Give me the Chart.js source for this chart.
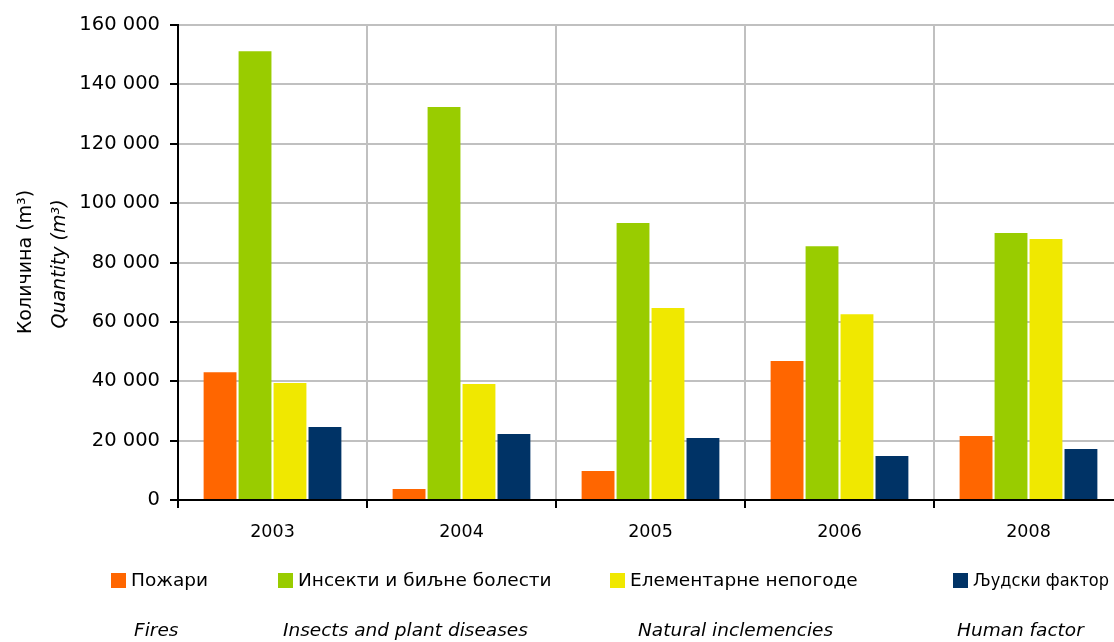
<!DOCTYPE html>
<html>
<head>
<meta charset="utf-8">
<script src="https://cdn.jsdelivr.net/npm/chart.js@4"></script>
<style>
  html, body { margin: 0; padding: 0; overflow: hidden; background: #fff; }
  #wrap { width: 1114px; height: 642px; overflow: hidden; }
</style>
</head>
<body>
<div id="wrap"><canvas id="myChart" width="1140" height="642"></canvas></div>
<script>
const categories = ['2003', '2004', '2005', '2006', '2008'];
const fires = [43000, 3700, 9800, 46800, 21600];
const insects = [151200, 132400, 93300, 85500, 89900];
const inclemencies = [39400, 39100, 64700, 62600, 87900];
const human = [24600, 22200, 20900, 14800, 17200];
const labelsSr = ['Пожари', 'Инсекти и биљне болести', 'Елементарне непогоде', 'Људски фактор'];
const labelsEn = ['Fires', 'Insects and plant diseases', 'Natural inclemencies', 'Human factor'];
const colors = ['#ff6600', '#99cc00', '#f0e800', '#003366'];
const yMax = 160000;
const yStep = 20000;

Chart.defaults.font.family = '"DejaVu Sans", Verdana, sans-serif';
Chart.defaults.font.size = 17;
Chart.defaults.color = '#000';

// legend + y title drawn by hand, two languages
const customText = {
  id: 'customText',
  afterDraw(chart) {
    const ctx = chart.ctx;
    ctx.save();
    ctx.fillStyle = '#000';
    ctx.textAlign = 'center';
    ctx.textBaseline = 'middle';

    ctx.save();
    ctx.translate(26, 262);
    ctx.rotate(-Math.PI / 2);
    ctx.font = '19px "DejaVu Sans"';
    ctx.fillText('Количина (m³)', 0, 0);
    ctx.restore();

    ctx.save();
    ctx.translate(60, 264);
    ctx.rotate(-Math.PI / 2);
    ctx.font = 'italic 19px "DejaVu Sans"';
    ctx.fillText('Quantity (m³)', 0, 0);
    ctx.restore();

    const sqX = [111, 278, 610, 953];
    const maxW = [80, 255, 228, 136];
    const enX = [134, 283, 638, 957];
    ctx.textAlign = 'left';
    chart.data.datasets.forEach((ds, i) => {
      ctx.fillStyle = ds.backgroundColor;
      ctx.fillRect(sqX[i], 573, 15, 15);
      ctx.fillStyle = '#000';
      ctx.font = '18.5px "DejaVu Sans"';
      ctx.fillText(ds.label, sqX[i] + 20, 581, maxW[i]);
      ctx.font = 'italic 18.5px "DejaVu Sans"';
      ctx.fillText(labelsEn[i], enX[i], 631);
    });
    ctx.restore();
  }
};

const ctx = document.getElementById('myChart').getContext('2d');

new Chart(ctx, {
  type: 'bar',
  data: {
    labels: categories,
    datasets: [
      { label: labelsSr[0], data: fires, backgroundColor: colors[0] },
      { label: labelsSr[1], data: insects, backgroundColor: colors[1] },
      { label: labelsSr[2], data: inclemencies, backgroundColor: colors[2] },
      { label: labelsSr[3], data: human, backgroundColor: colors[3] }
    ]
  },
  options: {
    responsive: false,
    animation: false,
    categoryPercentage: 0.74,
    barPercentage: 0.94,
    layout: { padding: { left: 0, right: 17, top: 25, bottom: 0 } },
    plugins: {
      legend: { display: false },
      tooltip: { enabled: false }
    },
    scales: {
      x: {
        afterFit: (s) => { s.height = 142; },
        grid: { color: '#c0c0c0', lineWidth: 2, tickColor: '#000', tickLength: 8, offset: true },
        border: { color: '#000', width: 2 },
        ticks: { padding: 14, font: { size: 17.5 } }
      },
      y: {
        min: 0,
        max: yMax,
        afterFit: (s) => { s.width = 178; },
        grid: { color: '#c0c0c0', lineWidth: 2, tickColor: '#000', tickLength: 8 },
        border: { color: '#000', width: 2 },
        ticks: {
          stepSize: yStep,
          padding: 10,
          font: { size: 19.5 },
          callback: (v) => v.toString().replace(/\B(?=(\d{3})+(?!\d))/g, ' ')
        }
      }
    }
  },
  plugins: [customText]
});
</script>
</body>
</html>
